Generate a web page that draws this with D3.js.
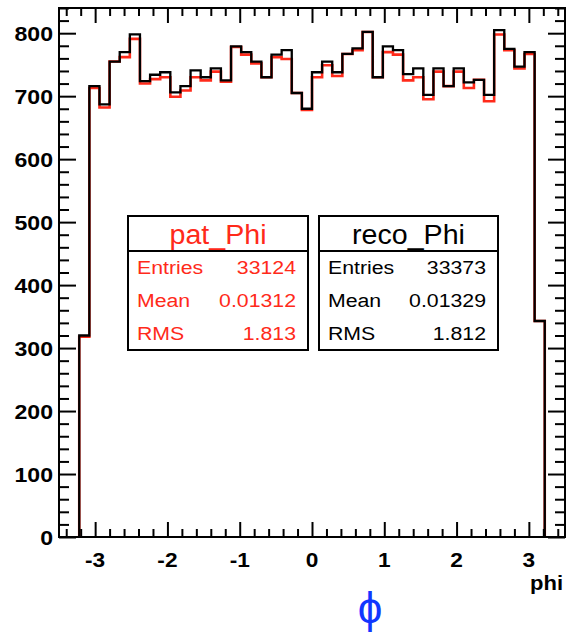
<!DOCTYPE html>
<html>
<head>
<meta charset="utf-8">
<script src="https://cdn.jsdelivr.net/npm/d3@7"></script>
<style>
  html, body { margin: 0; padding: 0; background: #fff; }
  svg { display: block; }
  text { font-family: "Liberation Sans", Arial, Helvetica, sans-serif; }
</style>
</head>
<body>
<script>
// ---------------- data ----------------
const xRange = [-3.5, 3.5];
const nBins = 50;
const yRange = [0, 840];
const xMajorTicks = [-3, -2, -1, 0, 1, 2, 3];
const yMajorTicks = [0, 100, 200, 300, 400, 500, 600, 700, 800];
const xTitle = "phi";
const symbolLabel = "ϕ";

// reco_Phi (black) bin contents, bins 0..49
const recoCounts = [0, 0,
  320, 716, 687, 755, 770, 798, 724, 734, 738, 706, 716, 741, 730, 744, 725, 779, 770, 755, 730, 766, 773, 705, 680,
  738, 755, 738, 767, 776, 802, 730, 779, 773, 735, 744, 702, 744, 716, 744, 722, 726, 702, 805, 775, 747, 770, 343,
  0, 0];
// pat_Phi (red) bin contents
const patCounts = [0, 0,
  318, 713, 682, 755, 762, 791, 720, 727, 730, 699, 709, 730, 725, 739, 723, 778, 766, 752, 730, 762, 759, 705, 678,
  730, 749, 732, 767, 773, 802, 730, 770, 766, 725, 730, 695, 739, 716, 739, 713, 726, 692, 798, 773, 744, 767, 343,
  0, 0];

const statNames = ["Entries", "Mean", "RMS"];
const patStats = ["33124", "0.01312", "1.813"];
const recoStats = ["33373", "0.01329", "1.812"];

// ---------------- drawing ----------------
const W = 566, H = 635;
const frame = {left: 59, right: 565, top: 8, bottom: 537};
const RED = "#ff2a1a";
const BLACK = "#000";
const STRETCH = 1.12;

const svg = d3.select("body").append("svg").attr("width", W).attr("height", H);
svg.append("rect").attr("width", W).attr("height", H).attr("fill", "#fff");

const x = d3.scaleLinear().domain(xRange).range([frame.left, frame.right]);
const y = d3.scaleLinear().domain(yRange).range([frame.bottom, frame.top]);

const binW = (xRange[1] - xRange[0]) / nBins;
const edges = d3.range(nBins + 1).map(i => xRange[0] + i * binW);

function stepPath(counts) {
  const pts = [];
  const first = counts.findIndex(v => v > 0);
  const last = counts.length - 1 - [...counts].reverse().findIndex(v => v > 0);
  pts.push([x(edges[first]), y(0)]);
  for (let i = first; i <= last; i++) {
    pts.push([x(edges[i]), y(counts[i])]);
    pts.push([x(edges[i + 1]), y(counts[i])]);
  }
  pts.push([x(edges[last + 1]), y(0)]);
  return d3.line()(pts);
}

const plot = svg.append("g");
plot.append("path").attr("d", stepPath(patCounts))
  .attr("fill", "none").attr("stroke", RED).attr("stroke-width", 2.6);
plot.append("path").attr("d", stepPath(recoCounts))
  .attr("fill", "none").attr("stroke", BLACK).attr("stroke-width", 2.3);

// stretched text helper (reference glyphs are slightly wider than Arial)
function sText(parent, tx, ty, str, size, anchor, color, weight, stretch) {
  const g = parent.append("g").attr("transform", `translate(${tx},${ty}) scale(${stretch || STRETCH},1)`);
  return g.append("text").attr("x", 0).attr("y", 0).attr("text-anchor", anchor || "start")
    .attr("font-size", size).attr("fill", color || "#000").attr("font-weight", weight || "normal").text(str);
}

// axes
const xMinor = d3.range(-34, 35, 2).map(v => v / 10).filter(v => !xMajorTicks.some(m => Math.abs(m - v) < 1e-9));
const yMinor = d3.range(0, 841, 20).filter(v => v % 100 !== 0);

function styleAxis(g) {
  g.select(".domain").remove();
  g.selectAll("line").attr("stroke", "#000").attr("stroke-width", 2);
}

// bottom
svg.append("g").attr("transform", `translate(0,${frame.bottom})`)
  .call(d3.axisBottom(x).tickValues(xMajorTicks).tickSize(-15).tickFormat(""))
  .call(styleAxis);
svg.append("g").attr("transform", `translate(0,${frame.bottom})`)
  .call(d3.axisBottom(x).tickValues(xMinor).tickSize(-8).tickFormat(""))
  .call(styleAxis);
const xLab = svg.append("g");
xMajorTicks.forEach(v => sText(xLab, x(v), 567, String(v), 21, "middle", "#000", "bold", 1.08));
// top
svg.append("g").attr("transform", `translate(0,${frame.top})`)
  .call(d3.axisTop(x).tickValues(xMajorTicks).tickSize(-15).tickFormat(""))
  .call(styleAxis);
svg.append("g").attr("transform", `translate(0,${frame.top})`)
  .call(d3.axisTop(x).tickValues(xMinor).tickSize(-8).tickFormat(""))
  .call(styleAxis);
// left
svg.append("g").attr("transform", `translate(${frame.left},0)`)
  .call(d3.axisLeft(y).tickValues(yMajorTicks).tickSize(-17).tickFormat(""))
  .call(styleAxis);
svg.append("g").attr("transform", `translate(${frame.left},0)`)
  .call(d3.axisLeft(y).tickValues(yMinor).tickSize(-10).tickFormat(""))
  .call(styleAxis);
const yLab = svg.append("g");
yMajorTicks.forEach(v => sText(yLab, frame.left - 6, y(v) + 7.5, String(v), 21, "end", "#000", "bold", 1.1));
// right
svg.append("g").attr("transform", `translate(${frame.right},0)`)
  .call(d3.axisRight(y).tickValues(yMajorTicks).tickSize(-17).tickFormat(""))
  .call(styleAxis);
svg.append("g").attr("transform", `translate(${frame.right},0)`)
  .call(d3.axisRight(y).tickValues(yMinor).tickSize(-10).tickFormat(""))
  .call(styleAxis);

// frame
svg.append("rect")
  .attr("x", frame.left).attr("y", frame.top)
  .attr("width", frame.right - frame.left).attr("height", frame.bottom - frame.top)
  .attr("fill", "none").attr("stroke", "#000").attr("stroke-width", 2);

// axis title
sText(svg, 563, 590, xTitle, 20, "end", "#000", "bold", 1.1);

// stats boxes
function statBox(x0, x1, title, values, color) {
  const top = 216, mid = 251, bottom = 350;
  const g = svg.append("g");
  g.append("rect").attr("x", x0).attr("y", top).attr("width", x1 - x0).attr("height", bottom - top)
    .attr("fill", "#fff").attr("stroke", "#000").attr("stroke-width", 2);
  g.append("line").attr("x1", x0).attr("x2", x1).attr("y1", mid).attr("y2", mid)
    .attr("stroke", "#000").attr("stroke-width", 2);
  sText(g, (x0 + x1) / 2, 243.5, title, 27, "middle", color, "normal", 1.06);
  statNames.forEach((n, i) => {
    const yy = 274 + i * 33;
    sText(g, x0 + 9, yy, n, 19, "start", color);
    sText(g, x1 - 12, yy, values[i], 19, "end", color);
  });
}
statBox(128, 308, "pat_Phi", patStats, RED);
statBox(319, 498, "reco_Phi", recoStats, BLACK);

// phi symbol
svg.append("text").attr("x", 370).attr("y", 623).attr("text-anchor", "middle")
  .attr("font-family", "DejaVu Sans").attr("font-size", 44).attr("fill", "#1136ff").text(symbolLabel);
</script>
</body>
</html>
